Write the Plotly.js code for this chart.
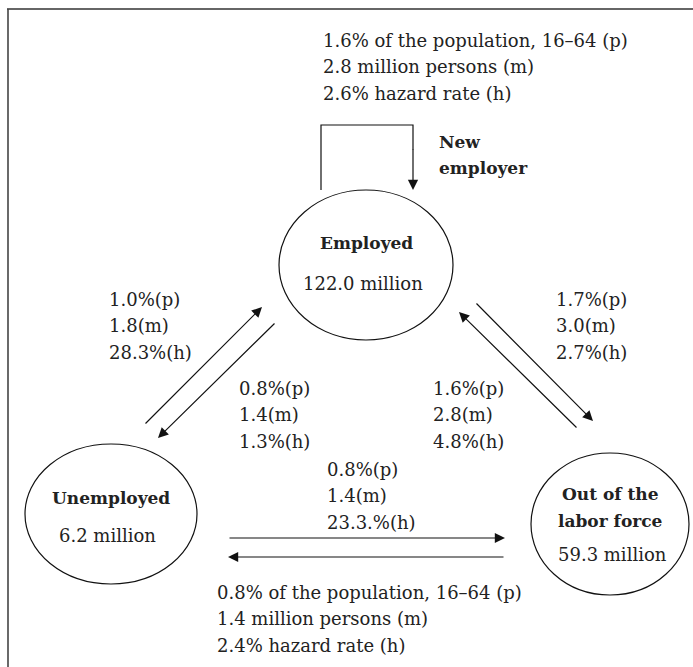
<!DOCTYPE html>
<html>
<head>
<meta charset="utf-8">
<script src="https://cdn.plot.ly/plotly-3.0.1.min.js"></script>
<style>html,body{margin:0;padding:0;background:#fff;}#chart{width:693px;height:667px;}</style>
</head>
<body>
<div id="chart"></div>
<script>
// ---- data ----
const nodeNames = ['Employed', 'Unemployed', 'Out of the<br>labor force'];
const nodeMillions = ['122.0', '6.2', '59.3'];

// flows: from -> to (0 = Employed, 1 = Unemployed, 2 = Out of the labor force)
const flowFrom = [0, 1, 0, 0, 2, 1, 2];
const flowTo   = [0, 0, 1, 2, 0, 2, 1];
const flowP = ['1.6%', '1.0%', '0.8%', '1.7%', '1.6%', '0.8%', '0.8%'];   // % of population 16-64
const flowM = ['2.8', '1.8', '1.4', '3.0', '2.8', '1.4', '1.4'];          // million persons
const flowH = ['2.6%', '28.3%', '1.3%', '2.7%', '4.8%', '23.3.%', '2.4%']; // hazard rate
const flowLong = [true, false, false, false, false, false, true];
const loopLabel = ['New', 'employer'];

// ---- layout (pixel geometry) ----
const nodeBox = [
  {cx: 366, cy: 265, rx: 87, ry: 75, title: [243], value: [363, 283]},
  {cx: 111, cy: 514, rx: 86, ry: 70, title: [498], value: [107, 535]},
  {cx: 610, cy: 524, rx: 79, ry: 71, title: [494, 521], value: [612, 554]}
];
const arrowGeom = [
  null,
  {x0: 144, y0: 425, x1: 262, y1: 307},
  {x0: 276, y0: 322, x1: 158, y1: 438},
  {x0: 475, y0: 302, x1: 593, y1: 421},
  {x0: 578, y0: 429, x1: 459, y1: 312},
  {x0: 228, y0: 538, x1: 505, y1: 538},
  {x0: 505, y0: 557, x1: 228, y1: 557}
];
const labelPos = [
  {x: 321, y: 40}, {x: 107, y: 299}, {x: 237, y: 388}, {x: 554, y: 299},
  {x: 431, y: 388}, {x: 325, y: 469}, {x: 215, y: 592}
];
const LINE = 26.6;
const FONT = 'DejaVu Serif, serif';
const TXT = '#222222';

const annotations = [];
const shapes = [];

// frame (top and left rules)
shapes.push({type: 'line', xref: 'x', yref: 'y', x0: 7, y0: 9, x1: 693, y1: 9, line: {color: '#333', width: 1.6}});
shapes.push({type: 'line', xref: 'x', yref: 'y', x0: 8, y0: 9, x1: 8, y1: 667, line: {color: '#444', width: 1.6}});

// nodes
nodeNames.forEach((name, i) => {
  const b = nodeBox[i];
  shapes.push({type: 'circle', xref: 'x', yref: 'y', x0: b.cx - b.rx, x1: b.cx + b.rx, y0: b.cy - b.ry, y1: b.cy + b.ry,
               line: {color: '#111', width: 1.2}, fillcolor: 'rgba(0,0,0,0)'});
  name.split('<br>').forEach((part, k) => {
    annotations.push({x: b.cx, y: b.title[k], xref: 'x', yref: 'y', text: part, showarrow: false,
      xanchor: 'center', yanchor: 'middle', font: {family: FONT, size: 17, color: TXT, weight: 'bold'}});
  });
  annotations.push({x: b.value[0], y: b.value[1], xref: 'x', yref: 'y', text: nodeMillions[i] + ' million', showarrow: false,
    xanchor: 'center', yanchor: 'middle', font: {family: FONT, size: 18, color: TXT}});
});

// flow labels and arrows
flowFrom.forEach((f, i) => {
  const lines = flowLong[i]
    ? [flowP[i] + ' of the population, 16–64 (p)', flowM[i] + ' million persons (m)', flowH[i] + ' hazard rate (h)']
    : [flowP[i] + '(p)', flowM[i] + '(m)', flowH[i] + '(h)'];
  lines.forEach((t, k) => {
    annotations.push({x: labelPos[i].x, y: labelPos[i].y + k * LINE, xref: 'x', yref: 'y', text: t, showarrow: false,
      xanchor: 'left', yanchor: 'middle', font: {family: FONT, size: 18, color: TXT}});
  });
  const g = arrowGeom[i];
  if (g) {
    annotations.push({x: g.x1, y: g.y1, ax: g.x0, ay: g.y0, xref: 'x', yref: 'y', axref: 'x', ayref: 'y', text: '',
      showarrow: true, arrowhead: 2, arrowsize: 1.7, arrowwidth: 1.2, arrowcolor: '#111', standoff: 0, startstandoff: 0});
  }
});

// self-loop (new employer)
shapes.push({type: 'path', xref: 'x', yref: 'y', path: 'M321,190 L321,125 L413,125 L413,150', line: {color: '#111', width: 1.2}});
annotations.push({x: 413, y: 190, ax: 413, ay: 148, xref: 'x', yref: 'y', axref: 'x', ayref: 'y', text: '',
  showarrow: true, arrowhead: 2, arrowsize: 1.7, arrowwidth: 1.2, arrowcolor: '#111', standoff: 0});
loopLabel.forEach((t, k) => {
  annotations.push({x: 437, y: 142 + k * 26, xref: 'x', yref: 'y', text: t, showarrow: false,
    xanchor: 'left', yanchor: 'middle', font: {family: FONT, size: 17, color: TXT, weight: 'bold'}});
});

const layout = {
  width: 693, height: 667,
  margin: {l: 0, r: 0, t: 0, b: 0, pad: 0},
  paper_bgcolor: '#ffffff', plot_bgcolor: '#ffffff',
  xaxis: {range: [0, 693], visible: false, fixedrange: true},
  yaxis: {range: [667, 0], visible: false, fixedrange: true},
  showlegend: false,
  shapes: shapes,
  annotations: annotations
};

Plotly.newPlot('chart', [{x: [], y: [], type: 'scatter', mode: 'markers', hoverinfo: 'skip'}], layout,
  {staticPlot: true, displayModeBar: false});
</script>
</body>
</html>
